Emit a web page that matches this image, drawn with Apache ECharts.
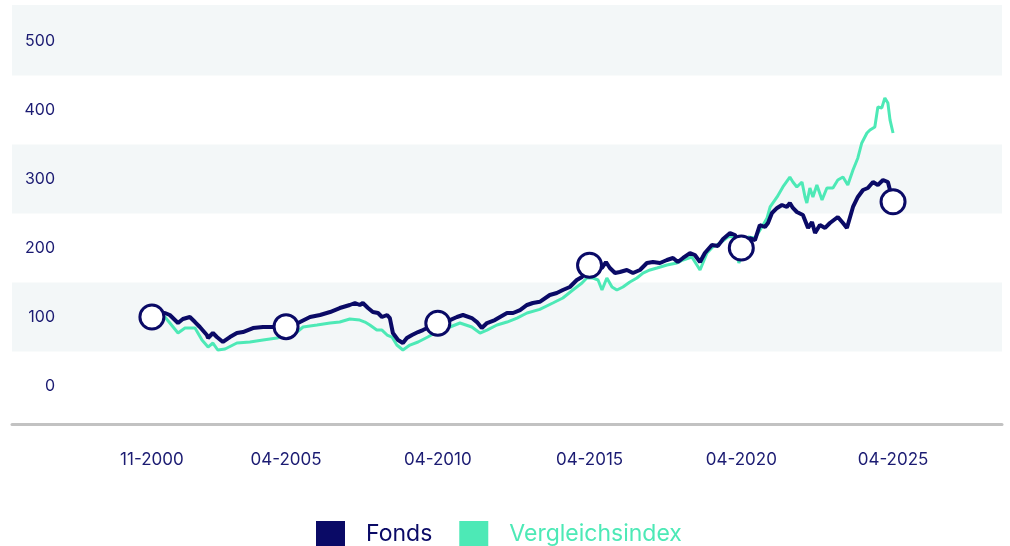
<!DOCTYPE html>
<html>
<head>
<meta charset="utf-8">
<script src="https://cdn.jsdelivr.net/npm/echarts@6/dist/echarts.min.js"></script>
<style>
  html, body { margin: 0; padding: 0; background: #fff; }
  #chart { width: 1010px; height: 546px; }
</style>
</head>
<body>
<div id="chart"></div>
<script>
// [decimal year, value]
var fonds = [
  [2000.83, 100], [2001.26, 105.8], [2001.42, 102.9], [2001.69, 91.3], [2001.85, 97.1],
  [2002.08, 100], [2002.25, 92.7], [2002.41, 85.5], [2002.64, 73.9], [2002.68, 69.6],
  [2002.84, 76.8], [2002.97, 71], [2003.17, 63.8], [2003.4, 71], [2003.63, 76.8],
  [2003.83, 78.2], [2004.16, 84], [2004.49, 85.5], [2004.82, 85.5], [2005.25, 86],
  [2005.71, 92.7], [2006.04, 100], [2006.37, 102.9], [2006.7, 107.2], [2007.02, 113],
  [2007.35, 117.4], [2007.52, 120.3], [2007.68, 117.4], [2007.78, 120.3], [2007.95, 113],
  [2008.11, 107.2], [2008.28, 105.8], [2008.41, 100], [2008.58, 102.9], [2008.67, 98.5],
  [2008.77, 76.8], [2008.94, 66.7], [2009.1, 62.3], [2009.23, 69.6], [2009.4, 73.9],
  [2009.6, 78.2], [2009.76, 81.1], [2010.25, 91], [2010.65, 95.6], [2010.88, 100],
  [2011.08, 102.9], [2011.37, 98.5], [2011.54, 92.7], [2011.7, 84], [2011.87, 91.3],
  [2012.13, 95.6], [2012.3, 100], [2012.53, 105.8], [2012.73, 105.8], [2012.96, 110.1],
  [2013.19, 117.4], [2013.38, 120.3], [2013.61, 122], [2013.94, 131.9], [2014.17, 134.8],
  [2014.37, 139.1], [2014.6, 143.5], [2014.83, 153.6], [2015.0, 158], [2015.25, 175],
  [2015.66, 171], [2015.79, 179.7], [2015.92, 171], [2016.09, 163.7], [2016.25, 165.2],
  [2016.48, 168.1], [2016.68, 163.7], [2016.91, 168.1], [2017.14, 178.2], [2017.34, 179.7],
  [2017.57, 178.2], [2017.8, 182.6], [2018.0, 185.5], [2018.16, 179.7], [2018.33, 185.5],
  [2018.56, 192.7], [2018.72, 189.8], [2018.89, 179.7], [2019.05, 192.7], [2019.28, 204.3],
  [2019.48, 203], [2019.65, 213], [2019.88, 221.7], [2020.04, 218.8], [2020.25, 200],
  [2020.53, 214.4], [2020.7, 211.5], [2020.86, 233.3], [2021.03, 230.4], [2021.13, 236.2],
  [2021.26, 250.7], [2021.43, 258], [2021.59, 262.3], [2021.75, 259.4], [2021.85, 265.2],
  [2021.95, 258], [2022.08, 252.1], [2022.28, 247.8], [2022.45, 229], [2022.58, 237.6],
  [2022.68, 221.7], [2022.84, 233.3], [2023.01, 229], [2023.17, 236.2], [2023.43, 244.9],
  [2023.6, 236.2], [2023.73, 229], [2023.93, 259.4], [2024.09, 273.9], [2024.26, 284],
  [2024.42, 286.9], [2024.59, 295.6], [2024.75, 291.2], [2024.92, 298.5], [2025.08, 295.6],
  [2025.25, 267]
];

var vergleichsindex = [
  [2000.83, 100], [2001.26, 100], [2001.69, 76.8], [2001.92, 84], [2002.25, 84],
  [2002.48, 66.7], [2002.68, 56.5], [2002.84, 62.3], [2003.0, 52.2], [2003.24, 53.6],
  [2003.63, 62.3], [2004.06, 63.8], [2004.49, 66.7], [2004.95, 69.6], [2005.61, 78.2],
  [2005.81, 85.5], [2006.27, 88.4], [2006.7, 91.3], [2007.02, 92.7], [2007.35, 97.1],
  [2007.68, 95.6], [2007.85, 92.7], [2008.01, 88.4], [2008.24, 81.1], [2008.41, 81.1],
  [2008.58, 73.9], [2008.74, 71], [2008.9, 59.4], [2009.1, 52.2], [2009.33, 59.4],
  [2009.6, 63.8], [2009.92, 71], [2010.32, 81.1], [2010.65, 85.5], [2010.98, 91.3],
  [2011.37, 85.5], [2011.64, 76.8], [2011.87, 81.1], [2012.2, 88.4], [2012.53, 92.7],
  [2012.86, 98.5], [2013.19, 105.8], [2013.61, 111], [2014.04, 120.3], [2014.37, 127.5],
  [2014.7, 139.1], [2015.0, 149.2], [2015.16, 156.5], [2015.36, 156.5], [2015.53, 153.6],
  [2015.66, 139.1], [2015.82, 156.5], [2015.99, 143.5], [2016.15, 139.1], [2016.35, 143.5],
  [2016.58, 150.7], [2016.81, 156.5], [2017.01, 163.7], [2017.24, 168.1], [2017.47, 171],
  [2017.8, 175.3], [2018.13, 178.2], [2018.33, 182.6], [2018.62, 186.9], [2018.89, 168.1],
  [2019.12, 192.7], [2019.31, 201.4], [2019.55, 207.2], [2019.81, 215.9], [2019.97, 217.4],
  [2020.17, 178.2], [2020.47, 215.9], [2020.7, 214.4], [2020.93, 230.4], [2021.1, 243.5],
  [2021.2, 259.4], [2021.43, 273.9], [2021.62, 288.4], [2021.85, 302.8], [2021.95, 295.6],
  [2022.08, 288.4], [2022.25, 295.6], [2022.35, 273.9], [2022.41, 265.2], [2022.51, 286.9],
  [2022.61, 273.9], [2022.74, 291.2], [2022.91, 269.5], [2023.07, 286.9], [2023.27, 286.9],
  [2023.43, 298.5], [2023.6, 302.8], [2023.76, 291.2], [2023.93, 313], [2024.09, 330.4],
  [2024.22, 352.1], [2024.39, 366.6], [2024.49, 371], [2024.65, 375.4], [2024.75, 404.3],
  [2024.88, 402.9], [2024.98, 417.4], [2025.08, 410.1], [2025.15, 385.5], [2025.25, 366.6]
];

// circles on the fund line at the label dates
var markerPoints = [
  [2000.83, 100], [2005.25, 86], [2010.25, 91], [2015.25, 175], [2020.25, 200], [2025.25, 267]
];

var xTickValues = [2000.83, 2005.25, 2010.25, 2015.25, 2020.25, 2025.25];
var xTickLabels = ['11-2000', '04-2005', '04-2010', '04-2015', '04-2020', '04-2025'];
var yTickValues = [0, 100, 200, 300, 400, 500];
var bands = [[50, 150], [250, 350], [450, 552]];

var navy = '#0a0a66';
var mint = '#4de9b6';
var labelColor = '#1b1b72';

var chart = echarts.init(document.getElementById('chart'));
chart.setOption({
  backgroundColor: '#fff',
  animation: false,
  textStyle: { fontFamily: 'Inter' },
  grid: { left: 12, right: 8, top: 5, bottom: 122 },
  legend: {
    bottom: -6,
    left: 311,
    icon: 'rect',
    itemWidth: 29,
    itemHeight: 26,
    itemGap: 27,
    textStyle: { fontSize: 23, fontFamily: 'Inter', padding: [0, 0, 0, 16] },
    data: [
      { name: 'Fonds', textStyle: { color: navy } },
      { name: 'Vergleichsindex', textStyle: { color: mint } }
    ]
  },
  xAxis: {
    type: 'value',
    min: 1996.22,
    max: 2028.84,
    axisLine: { show: true, onZero: false, lineStyle: { color: '#c2c2c2', width: 3 } },
    axisTick: { show: false },
    splitLine: { show: false },
    axisLabel: {
      customValues: xTickValues,
      hideOverlap: false,
      margin: 27,
      color: labelColor,
      fontSize: 17,
      formatter: function (v) {
        var i = xTickValues.indexOf(v);
        return i >= 0 ? xTickLabels[i] : '';
      }
    }
  },
  yAxis: {
    type: 'value',
    min: -55,
    max: 552,
    z: 6,
    axisLine: { show: false },
    axisTick: { show: false },
    splitLine: { show: false },
    axisLabel: {
      customValues: yTickValues,
      inside: true,
      align: 'right',
      margin: 43,
      color: labelColor,
      fontSize: 16
    }
  },
  series: [
    {
      name: 'Fonds',
      type: 'line',
      z: 3,
      data: fonds,
      showSymbol: false,
      color: navy,
      lineStyle: { color: navy, width: 4 },
      markArea: {
        silent: true,
        z: 0,
        itemStyle: { color: '#f3f7f8' },
        data: bands.map(function (b) { return [{ yAxis: b[0] }, { yAxis: b[1] }]; })
      }
    },
    {
      name: 'Vergleichsindex',
      type: 'line',
      z: 2,
      data: vergleichsindex,
      showSymbol: false,
      color: mint,
      lineStyle: { color: mint, width: 3 }
    },
    {
      name: 'marker',
      type: 'scatter',
      z: 5,
      data: markerPoints,
      symbolSize: 24,
      itemStyle: { color: '#fff', borderColor: navy, borderWidth: 3, opacity: 1 }
    }
  ]
});
</script>
</body>
</html>
